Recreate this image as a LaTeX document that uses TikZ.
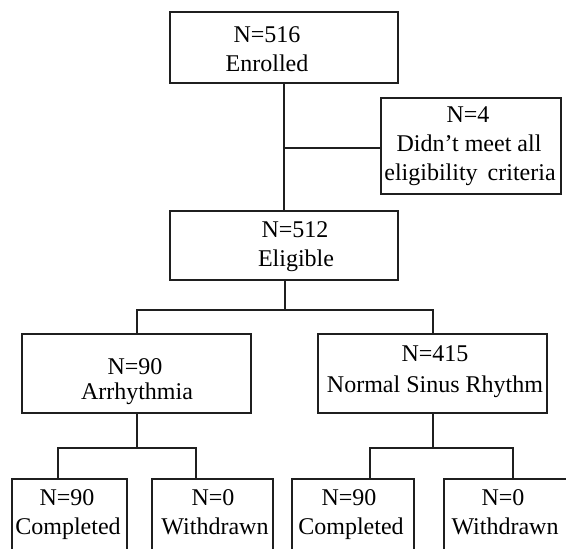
\documentclass[tikz,border=0pt]{standalone}
\usepackage{fontspec}
\setmainfont{Liberation Serif}
\begin{document}
\begin{tikzpicture}[x=1pt,y=-1pt,
  box/.style={draw=black!88, line width=1.8pt, inner sep=0pt, outer sep=0pt, rectangle},
  txt/.style={anchor=base, inner sep=0pt, font=\fontsize{24}{28}\selectfont, text=black},
  conn/.style={draw=black!88, line width=1.8pt}]
\useasboundingbox (0,0) rectangle (566,549);
\clip (0,0) rectangle (566,549);
% boxes
\node[box, minimum width=228pt, minimum height=71pt] (enr) at (284,47.5) {};
\node[box, minimum width=180pt, minimum height=96pt] (inel) at (471,146) {};
\node[box, minimum width=228pt, minimum height=69pt] (elig) at (284,245.5) {};
\node[box, minimum width=229pt, minimum height=79pt] (arr) at (136.5,373.5) {};
\node[box, minimum width=229pt, minimum height=79pt] (nsr) at (432.5,373.5) {};
\node[box, minimum width=115pt, minimum height=100pt] (c1) at (69.5,529) {};
\node[box, minimum width=121pt, minimum height=100pt] (w1) at (212.5,529) {};
\node[box, minimum width=122pt, minimum height=100pt] (c2) at (353,529) {};
\node[box, minimum width=123pt, minimum height=100pt] (w2) at (505.5,529) {};
% texts
\node[txt] (enr-a) at (267,42) {N=516};
\node[txt] (enr-b) at (267,71) {Enrolled};
\node[txt] (inel-a) at (468,122) {N=4};
\node[txt] (inel-b) at (469,151) {Didn’t meet all};
\node[txt] (inel-c) at (470,180) {eligibility\, criteria};
\node[txt] (elig-a) at (295,237) {N=512};
\node[txt] (elig-b) at (296,266) {Eligible};
\node[txt] (arr-a) at (135,374) {N=90};
\node[txt] (arr-b) at (137,399) {Arrhythmia};
\node[txt] (nsr-a) at (435,361) {N=415};
\node[txt] (nsr-b) at (435,392) {Normal Sinus Rhythm};
\node[txt] (c1-a) at (67,505) {N=90};
\node[txt] (c1-b) at (68,534) {Completed};
\node[txt] (w1-a) at (213,505) {N=0};
\node[txt] (w1-b) at (215,534) {Withdrawn};
\node[txt] (c2-a) at (349,505) {N=90};
\node[txt] (c2-b) at (351,534) {Completed};
\node[txt] (w2-a) at (503,505) {N=0};
\node[txt] (w2-b) at (505,534) {Withdrawn};
% connectors
\coordinate (j1) at (284,148);
\draw[conn] (enr.south) -- (elig.north);
\draw[conn] (j1) -- (j1 -| inel.west);
\coordinate (s1) at (285,310);
\coordinate (a1) at (137,310);
\coordinate (n1) at (433,310);
\draw[conn] (s1 |- elig.south) -- (s1);
\draw[conn] (a1 |- arr.north) -- (a1) -- (n1) -- (n1 |- nsr.north);
\coordinate (s2) at (137,448);
\coordinate (c1in) at (58,448);
\coordinate (w1in) at (196,448);
\draw[conn] (s2 |- arr.south) -- (s2);
\draw[conn] (c1in |- c1.north) -- (c1in) -- (w1in) -- (w1in |- w1.north);
\coordinate (s3) at (433,448);
\coordinate (c2in) at (370,448);
\coordinate (w2in) at (513,448);
\draw[conn] (s3 |- nsr.south) -- (s3);
\draw[conn] (c2in |- c2.north) -- (c2in) -- (w2in) -- (w2in |- w2.north);
\end{tikzpicture}
\end{document}
